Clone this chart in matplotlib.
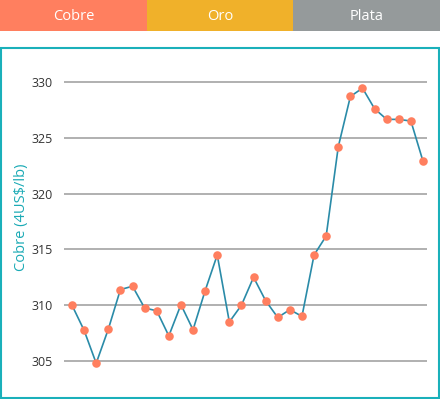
import matplotlib
matplotlib.use("Agg")
import matplotlib.pyplot as plt
from matplotlib.patches import Rectangle

plt.rcParams['font.family'] = ['Open Sans', 'DejaVu Sans']

tabs = ["Cobre", "Oro", "Plata"]
tab_colors = ["#FF7F5F", "#F0B12A", "#959A9B"]

values = [310.0, 307.75, 304.8, 307.85, 311.4, 311.7, 309.75, 309.5, 307.25, 310.05,
          307.8, 311.3, 314.5, 308.5, 310.0, 312.5, 310.4, 308.9, 309.6, 309.0,
          314.5, 316.2, 324.2, 328.7, 329.45, 327.6, 326.65, 326.65, 326.5, 322.9]
yticks = [305, 310, 315, 320, 325, 330]
ylabel = "Cobre (4US$/lb)"

W, H = 440, 399
fig = plt.figure(figsize=(W/100, H/100), dpi=100)

def fx(px): return px / W
def fy(py): return 1 - py / H

# header tabs
tab_w = W / 3
for i, (t, c) in enumerate(zip(tabs, tab_colors)):
    fig.patches.append(Rectangle((fx(i*tab_w), fy(31)), fx(tab_w), 31/H,
                                 transform=fig.transFigure, facecolor=c, edgecolor='none'))
    fig.text(fx(i*tab_w + tab_w/2), fy(16.5), t, ha='center', va='center',
             color='white', fontsize=10.5)

# teal border
fig.patches.append(Rectangle((fx(1), fy(398)), fx(438), 350/H, transform=fig.transFigure,
                             facecolor='none', edgecolor='#1AB0BA', linewidth=1.5))

ax = fig.add_axes([fx(64), fy(385), fx(427-64), (385-60)/H])
x = list(range(len(values)))
ax.plot(x, values, color='#2A8BA8', linewidth=1.2, zorder=2)
ax.scatter(x, values, s=38, color='#FF7F5F', zorder=3, linewidths=0)
ax.set_xlim(-0.66, 29.33)
ax.set_ylim(302.85, 331.97)
ax.set_yticks(yticks)
ax.set_yticklabels([str(v) for v in yticks], fontsize=9, color='#333333')
ax.tick_params(axis='y', length=0, pad=8)
ax.set_xticks([])
ax.grid(axis='y', color='#AAAAAA', linewidth=1.3)
ax.set_axisbelow(True)
for s in ax.spines.values():
    s.set_visible(False)
ax.set_facecolor('none')
fig.text(fx(22), fy(217), ylabel, rotation=90, ha='center', va='center',
         color='#1AAAB5', fontsize=10.5)

fig.savefig("out.png", dpi=100)
